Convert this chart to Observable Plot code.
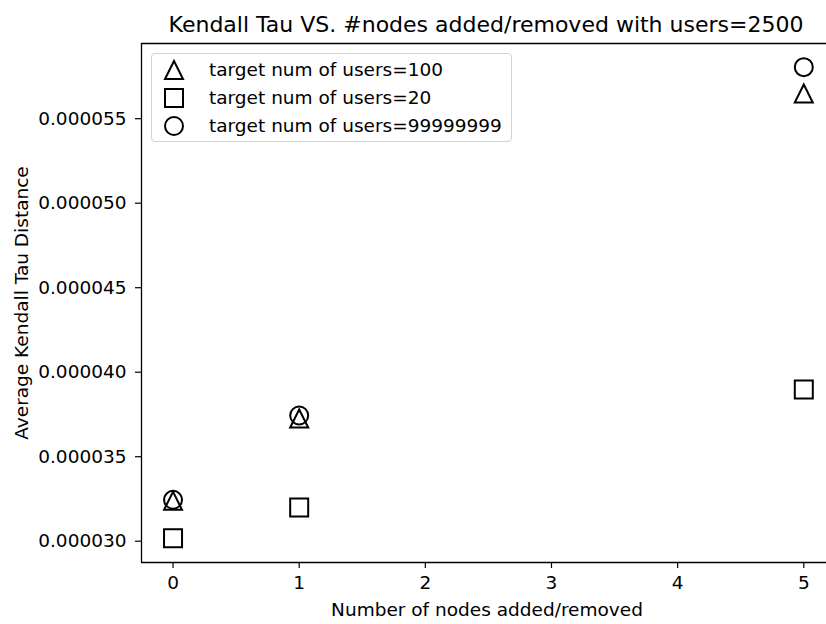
<!DOCTYPE html>
<html>
<head>
<meta charset="utf-8">
<script src="https://cdn.jsdelivr.net/npm/d3@7"></script>
<script src="https://cdn.jsdelivr.net/npm/@observablehq/plot@0.6"></script>
<style>
  html, body { margin: 0; padding: 0; background: white; overflow: hidden; }
  #wrap { position: relative; width: 826px; height: 624px; font-family: "DejaVu Sans", sans-serif; }
  #legend { position: absolute; left: 151px; top: 53px; width: 361px; height: 89px;
    border: 1px solid #d2d2d2; border-radius: 4px; background: rgba(255,255,255,0.8); box-sizing: border-box; }
  .row { position: absolute; left: 0; height: 24px; width: 100%; }
  .row svg { position: absolute; left: 10px; top: 0; }
  .row span { position: absolute; left: 57px; top: 0; line-height: 24px; font-size: 18.5px; color: #000; white-space: pre; }
</style>
</head>
<body>
<div id="wrap"></div>
<script>
// ---- data ----
const xValues = [0, 1, 5];
const seriesNames = ["target num of users=100", "target num of users=20", "target num of users=99999999"];
const users100 = [3.239e-5, 3.726e-5, 5.649e-5];
const users20 = [3.017e-5, 3.199e-5, 3.898e-5];
const users99999999 = [3.245e-5, 3.744e-5, 5.805e-5];
const xTicks = [0, 1, 2, 3, 4, 5];
const yTicks = [0.000030, 0.000035, 0.000040, 0.000045, 0.000050, 0.000055];
const titleText = "Kendall Tau VS. #nodes added/removed with users=2500";
const xLabel = "Number of nodes added/removed";
const yLabel = "Average Kendall Tau Distance";

const seriesValues = [users100, users20, users99999999];
const data = [];
seriesNames.forEach((name, si) => {
  xValues.forEach((x, i) => data.push({series: name, x, y: seriesValues[si][i]}));
});

// matplotlib-like marker shapes (size = pi r^2)
const triUp = {draw(ctx, size) { const r = Math.sqrt(size / Math.PI);
  ctx.moveTo(0, -r); ctx.lineTo(-r, r); ctx.lineTo(r, r); ctx.closePath(); }};
const sq = {draw(ctx, size) { const r = Math.sqrt(size / Math.PI);
  ctx.moveTo(-r, -r); ctx.lineTo(r, -r); ctx.lineTo(r, r); ctx.lineTo(-r, r); ctx.closePath(); }};
const circ = {draw(ctx, size) { const r = Math.sqrt(size / Math.PI);
  ctx.moveTo(r, 0); ctx.arc(0, 0, r, 0, 2 * Math.PI); ctx.closePath(); }};
const symbols = [triUp, sq, circ];

const xDomain = [-0.25, 5.18];
const yDomain = [2.874e-5, 5.945e-5];

const chart = Plot.plot({
  width: 826,
  height: 624,
  marginLeft: 141,
  marginRight: 0,
  marginTop: 43,
  marginBottom: 62,
  style: {fontFamily: "DejaVu Sans", fontSize: "18.5px", color: "#000", background: "white"},
  x: {domain: xDomain},
  y: {domain: yDomain},
  symbol: {domain: seriesNames, range: symbols},
  marks: [
    Plot.ruleX([xDomain[0]], {stroke: "#000", strokeWidth: 1.3}),
    Plot.ruleY([yDomain[0]], {stroke: "#000", strokeWidth: 1.3}),
    Plot.ruleY([yDomain[1]], {stroke: "#000", strokeWidth: 1.3}),
    Plot.axisX({ticks: xTicks, tickSize: 6, tickPadding: 7, tickFormat: d => String(d), label: null, strokeWidth: 1.2}),
    Plot.axisY({ticks: yTicks, tickSize: 6, tickPadding: 9, tickFormat: d => d.toFixed(6), label: null, strokeWidth: 1.2}),
    Plot.dot(data, {x: "x", y: "y", symbol: "series", r: 9, fill: "none", stroke: "#000", strokeWidth: 2}),
    Plot.text([titleText], {text: d => d, frameAnchor: "top", lineAnchor: "bottom", dy: -12, dx: 2, fontSize: 22, fill: "#000"}),
    Plot.text([xLabel], {text: d => d, frameAnchor: "bottom", lineAnchor: "bottom", dy: 53, dx: 3, fontSize: 18.5, fill: "#000"}),
    Plot.text([yLabel], {text: d => d, frameAnchor: "left", rotate: -90, lineAnchor: "bottom", textAnchor: "middle", dx: -114, fontSize: 18.5, fill: "#000"})
  ]
});

const wrap = document.getElementById("wrap");
wrap.appendChild(chart);

// legend overlay
const legend = document.createElement("div");
legend.id = "legend";
const shapePaths = [
  "M12,3 L3,21 L21,21 Z",
  "M3,3 L21,3 L21,21 L3,21 Z",
  null
];
const rowCenters = [16, 44, 72];
seriesNames.forEach((name, i) => {
  const row = document.createElement("div");
  row.className = "row";
  row.style.top = (rowCenters[i] - 12) + "px";
  const shape = shapePaths[i]
    ? `<path d="${shapePaths[i]}" fill="none" stroke="#000" stroke-width="2"/>`
    : `<circle cx="12" cy="12" r="9" fill="none" stroke="#000" stroke-width="2"/>`;
  row.innerHTML = `<svg width="24" height="24" viewBox="0 0 24 24">${shape}</svg><span>${name}</span>`;
  legend.appendChild(row);
});
wrap.appendChild(legend);
</script>
</body>
</html>
